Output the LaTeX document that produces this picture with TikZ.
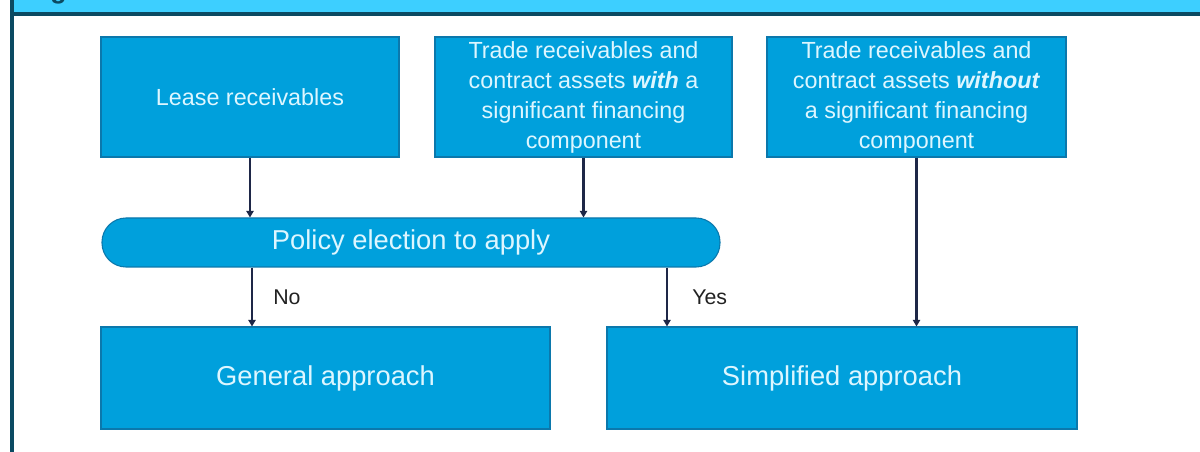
\documentclass[tikz,border=0pt]{standalone}
\usepackage{fontspec}
\setmainfont{Liberation Sans}
\usetikzlibrary{arrows.meta}
\definecolor{boxfill}{HTML}{00A0DC}
\definecolor{boxedge}{HTML}{0B78AC}
\definecolor{boxtext}{HTML}{DDF6FF}
\definecolor{arrowcol}{HTML}{1E2747}
\definecolor{headcyan}{HTML}{3DCFFF}
\definecolor{headdark}{HTML}{0B4A62}
\definecolor{lbltext}{HTML}{222222}
\begin{document}
\begin{tikzpicture}[x=0.75pt,y=-0.75pt,
  bluebox/.style={draw=boxedge, line width=0.8pt, fill=boxfill, text=boxtext, inner sep=0pt, align=center, font=\fontsize{17.5}{22.5}\selectfont},
  bigtext/.style={font=\fontsize{20.5}{24}\selectfont},
  flow/.style={draw=arrowcol, line width=1.6pt, -{Triangle[length=5pt,width=5.5pt]}},
  lbl/.style={text=lbltext, font=\fontsize{16}{19}\selectfont, anchor=west, inner sep=0pt}]
\useasboundingbox (0,0) rectangle (1200,452);
\fill[white] (0,0) rectangle (1200,452);
% header band
\fill[headcyan] (14,0) rectangle (1200,12);
\begin{scope}
  \clip (14,0) rectangle (1200,12);
  \node[anchor=base west, inner sep=0pt, text=headdark, font=\bfseries\fontsize{20}{24}\selectfont] (ttl) at (50,-1.6) {g};
\end{scope}
\fill[headdark] (10,12) rectangle (1200,16);
\fill[headdark] (10,0) rectangle (14,452);
% boxes
\node[bluebox, minimum width=223.5pt, minimum height=90pt] (b1) at (250,97) {Lease receivables};
\node[bluebox, minimum width=222.75pt, minimum height=90pt] (b2) at (583.5,97)
  {Trade receivables and\\contract assets \textbf{\textit{with}} a\\significant financing\\component};
\node[bluebox, minimum width=224.25pt, minimum height=90pt] (b3) at (916.5,97)
  {Trade receivables and\\contract assets \textbf{\textit{without}}\\a significant financing\\component};
\node[bluebox, bigtext, rounded corners=18pt, minimum width=463.5pt, minimum height=36.75pt] (pill) at (411,242.5) {Policy election to apply};
\node[bluebox, bigtext, minimum width=336.75pt, minimum height=76.5pt] (gen) at (325.5,378) {General approach};
\node[bluebox, bigtext, minimum width=352.5pt, minimum height=76.5pt] (simp) at (842,378) {Simplified approach};
% connectors
\coordinate (nox) at (252,300);
\coordinate (yesx) at (667,300);
\draw[flow] (b1.south) -- (b1.south |- pill.north);
\draw[flow] (b2.south) -- (b2.south |- pill.north);
\draw[flow] (b3.south) -- (b3.south |- simp.north);
\draw[flow] (pill.south -| nox) -- (gen.north -| nox);
\draw[flow] (pill.south -| yesx) -- (simp.north -| yesx);
\node[lbl] (no) at (273,297) {No};
\node[lbl] (yes) at (692,297) {Yes};
\end{tikzpicture}
\end{document}
